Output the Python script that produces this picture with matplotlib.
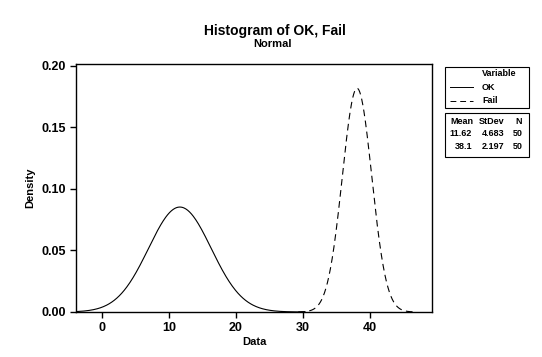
import numpy as np
import matplotlib.pyplot as plt
from matplotlib.patches import Rectangle
from matplotlib.lines import Line2D

# summary statistics shown in the legend table
variables = ["OK", "Fail"]
means = [11.62, 38.1]
stdevs = [4.683, 2.197]
counts = [50, 50]
styles = ["-", (0, (6, 4))]

plt.rcParams["font.family"] = ["Liberation Sans", "DejaVu Sans"]
plt.rcParams["font.weight"] = "bold"

W, H = 542, 357
def fx(px):
    return px / W
def fy(py):
    return 1 - py / H

fig = plt.figure(figsize=(5.42, 3.57), dpi=100)
ax = fig.add_axes([fx(76), fy(312), fx(432) - fx(76), fy(64) - fy(312)])

# fitted normal curves from the mean / stdev in the table
for m, s, ls in zip(means, stdevs, styles):
    x = np.linspace(m - 4 * s, m + 4 * s, 400)
    y = np.exp(-0.5 * ((x - m) / s) ** 2) / (s * np.sqrt(2 * np.pi))
    ax.plot(x, y, color="black", lw=0.8, ls=ls)

ax.set_xlim(-3.9, 49.3)
ax.set_ylim(0, 0.2013)
ax.set_xticks([0, 10, 20, 30, 40])
ax.set_yticks([0.0, 0.05, 0.10, 0.15, 0.20])
ax.set_yticklabels(["0.00", "0.05", "0.10", "0.15", "0.20"])
ax.tick_params(labelsize=9, length=4, width=1)
for lab in ax.get_xticklabels() + ax.get_yticklabels():
    lab.set_fontweight("bold")
for sp in ax.spines.values():
    sp.set_linewidth(1)
ax.set_xlabel("Data", fontsize=8, fontweight="bold", labelpad=2)
ax.set_ylabel("Density", fontsize=8, fontweight="bold", labelpad=4)

fig.text(fx(275), fy(31), "Histogram of OK, Fail", ha="center", va="center",
         fontsize=10, fontweight="bold")
fig.text(fx(272), fy(44), "Normal", ha="center", va="center",
         fontsize=8, fontweight="bold")

# legend box: variable
fig.patches.append(Rectangle((fx(445), fy(108)), fx(529) - fx(445), fy(67) - fy(108),
                             transform=fig.transFigure, fill=False, lw=0.8, ec="black"))
fig.text(fx(516), fy(74), "Variable", ha="right", va="center", fontsize=6.5, fontweight="bold")
for i, (name, ls) in enumerate(zip(variables, styles)):
    yy = fy(87 + i * 13.5)
    fig.lines.append(Line2D([fx(450), fx(473)], [yy, yy], transform=fig.transFigure,
                            color="black", lw=0.7, ls=ls))
    fig.text(fx(482), yy, name, ha="left", va="center", fontsize=6.5, fontweight="bold")

# legend box: statistics
fig.patches.append(Rectangle((fx(445), fy(157)), fx(529) - fx(445), fy(113) - fy(157),
                             transform=fig.transFigure, fill=False, lw=0.8, ec="black"))
head_x = [fx(473), fx(504), fx(522)]
val_x = [fx(472), fx(504), fx(523)]
for c, h in zip(head_x, ["Mean", "StDev", "N"]):
    fig.text(c, fy(122), h, ha="right", va="center", fontsize=6.5, fontweight="bold")
for i in range(len(variables)):
    yy = fy(134 + i * 12.5)
    vals = [f"{means[i]:g}", f"{stdevs[i]:g}", str(counts[i])]
    for c, v in zip(val_x, vals):
        fig.text(c, yy, v, ha="right", va="center", fontsize=6.5, fontweight="bold")

fig.savefig("out.png", dpi=100)
